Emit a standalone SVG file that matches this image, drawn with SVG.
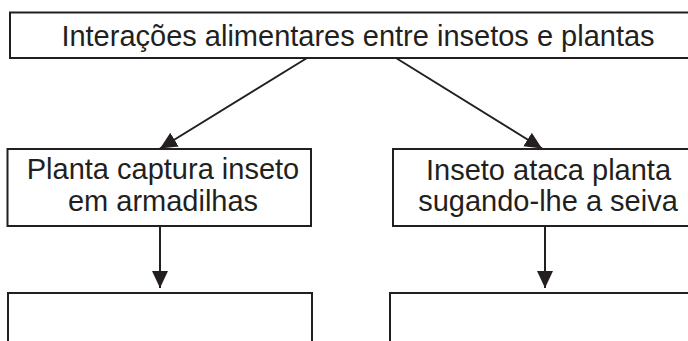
<svg xmlns="http://www.w3.org/2000/svg" width="688" height="341" viewBox="0 0 688 341">
<defs>
<style>
.box{fill:#fff;stroke:#231f20;stroke-width:2}
.lbl{font-family:"Liberation Sans",Arial,sans-serif;font-size:29px;fill:#231f20;text-anchor:middle}
.conn{stroke:#231f20;stroke-width:2;fill:none}
</style>
<marker id="ah" markerUnits="userSpaceOnUse" markerWidth="18" markerHeight="18" viewBox="0 0 18 18" refX="17" refY="9" orient="auto">
<path d="M0,1 L17,9 L0,17 Z" fill="#231f20"/>
</marker>
</defs>
<rect width="688" height="341" fill="#fff"/>
<g id="top">
<rect class="box" x="10" y="12.5" width="690" height="45.5"/>
<text class="lbl" x="358" y="45.5">Interações alimentares entre insetos e plantas</text>
</g>
<g id="left">
<rect class="box" x="7.5" y="149" width="303.5" height="77"/>
<text class="lbl" x="163" y="179">Planta captura inseto</text>
<text class="lbl" x="163" y="211">em armadilhas</text>
</g>
<g id="right">
<rect class="box" x="393" y="149" width="310" height="77"/>
<text class="lbl" x="548.5" y="179.5">Inseto ataca planta</text>
<text class="lbl" x="548" y="211">sugando-lhe a seiva</text>
</g>
<g id="bottom-left">
<rect class="box" x="8" y="293" width="304" height="60"/>
</g>
<g id="bottom-right">
<rect class="box" x="390" y="293" width="320" height="60"/>
</g>
<g id="connectors">
<line class="conn" x1="307" y1="58" x2="160" y2="148.5" marker-end="url(#ah)"/>
<line class="conn" x1="396" y1="58" x2="542" y2="148.5" marker-end="url(#ah)"/>
<line class="conn" x1="160" y1="226" x2="160" y2="288" marker-end="url(#ah)"/>
<line class="conn" x1="545" y1="226" x2="545" y2="288" marker-end="url(#ah)"/>
</g>
</svg>
